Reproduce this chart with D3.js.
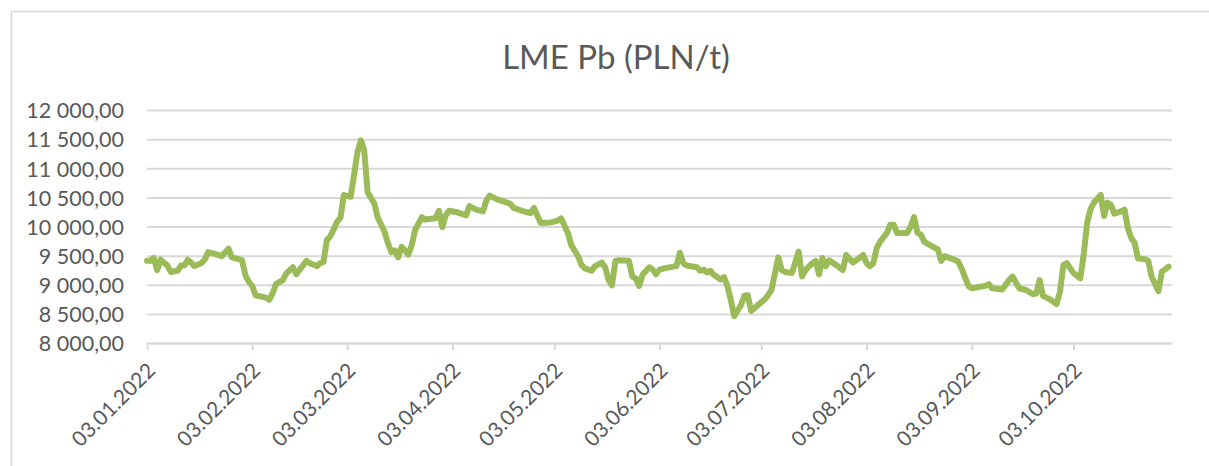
<!DOCTYPE html>
<html>
<head>
<meta charset="utf-8">
<script src="https://cdn.jsdelivr.net/npm/d3@7"></script>
<style>
  body { margin: 0; background: #fff; }
  text { font-family: Lato, "Open Sans", sans-serif; fill: #595959; }
</style>
</head>
<body>
<div id="chart-wrapper"></div>
<script>
// data (date, PLN/t)
var dates = [
  "2022-01-03","2022-01-04","2022-01-05","2022-01-06","2022-01-07","2022-01-09","2022-01-10","2022-01-12","2022-01-13","2022-01-14",
  "2022-01-15","2022-01-16","2022-01-17","2022-01-19","2022-01-20","2022-01-21","2022-01-23","2022-01-25","2022-01-27","2022-01-28",
  "2022-01-30","2022-01-31","2022-02-01","2022-02-02","2022-02-03","2022-02-04","2022-02-07","2022-02-08","2022-02-09","2022-02-10",
  "2022-02-12","2022-02-13","2022-02-15","2022-02-16","2022-02-17","2022-02-19","2022-02-20","2022-02-22","2022-02-23","2022-02-24",
  "2022-02-25","2022-02-26","2022-02-27","2022-02-28","2022-03-01","2022-03-02","2022-03-04","2022-03-05","2022-03-06","2022-03-07",
  "2022-03-08","2022-03-09","2022-03-11","2022-03-12","2022-03-14","2022-03-15","2022-03-16","2022-03-17","2022-03-18","2022-03-19",
  "2022-03-20","2022-03-21","2022-03-22","2022-03-23","2022-03-25","2022-03-26","2022-03-29","2022-03-30","2022-03-31","2022-04-01",
  "2022-04-02","2022-04-04","2022-04-07","2022-04-08","2022-04-10","2022-04-12","2022-04-13","2022-04-14","2022-04-16","2022-04-18",
  "2022-04-20","2022-04-21","2022-04-22","2022-04-24","2022-04-26","2022-04-27","2022-04-29","2022-05-02","2022-05-04","2022-05-05",
  "2022-05-07","2022-05-08","2022-05-10","2022-05-11","2022-05-12","2022-05-14","2022-05-15","2022-05-17","2022-05-18","2022-05-19",
  "2022-05-20","2022-05-21","2022-05-22","2022-05-25","2022-05-26","2022-05-27","2022-05-28","2022-05-29","2022-05-31","2022-06-01",
  "2022-06-02","2022-06-03","2022-06-05","2022-06-08","2022-06-09","2022-06-10","2022-06-11","2022-06-14","2022-06-15","2022-06-16",
  "2022-06-17","2022-06-18","2022-06-19","2022-06-21","2022-06-22","2022-06-23","2022-06-24","2022-06-25","2022-06-27","2022-06-28",
  "2022-06-29","2022-06-30","2022-07-02","2022-07-04","2022-07-05","2022-07-06","2022-07-08","2022-07-09","2022-07-10","2022-07-12",
  "2022-07-14","2022-07-15","2022-07-16","2022-07-18","2022-07-19","2022-07-20","2022-07-21","2022-07-22","2022-07-23","2022-07-25",
  "2022-07-27","2022-07-28","2022-07-30","2022-08-02","2022-08-03","2022-08-04","2022-08-05","2022-08-06","2022-08-07","2022-08-09",
  "2022-08-10","2022-08-11","2022-08-12","2022-08-15","2022-08-16","2022-08-17","2022-08-18","2022-08-19","2022-08-20","2022-08-22",
  "2022-08-24","2022-08-25","2022-08-26","2022-08-28","2022-08-30","2022-08-31","2022-09-02","2022-09-03","2022-09-07","2022-09-08",
  "2022-09-09","2022-09-12","2022-09-14","2022-09-15","2022-09-17","2022-09-19","2022-09-21","2022-09-22","2022-09-23","2022-09-24",
  "2022-09-26","2022-09-28","2022-09-29","2022-09-30","2022-10-01","2022-10-03","2022-10-05","2022-10-06","2022-10-07","2022-10-08",
  "2022-10-09","2022-10-11","2022-10-12","2022-10-13","2022-10-14","2022-10-15","2022-10-17","2022-10-18","2022-10-19","2022-10-20",
  "2022-10-21","2022-10-22","2022-10-24","2022-10-25","2022-10-26","2022-10-28","2022-10-29","2022-10-31"
];
var prices = [
  9410,9410,9460,9250,9430,9330,9220,9240,9330,9330,
  9430,9380,9320,9370,9430,9560,9530,9490,9620,9470,
  9440,9420,9160,9050,8980,8820,8780,8740,8850,9010,
  9080,9190,9300,9180,9260,9410,9370,9320,9370,9390,
  9770,9830,9950,10080,10150,10540,10510,10880,11270,11480,
  11310,10590,10390,10150,9910,9710,9560,9590,9470,9650,
  9590,9520,9680,9940,10160,10120,10140,10270,9990,10190,
  10270,10250,10190,10350,10290,10260,10450,10530,10470,10430,
  10390,10320,10300,10260,10230,10320,10060,10070,10100,10140,
  9890,9680,9490,9340,9280,9240,9320,9380,9300,9080,
  8990,9410,9420,9410,9140,9110,8980,9170,9300,9260,
  9180,9260,9290,9320,9550,9370,9330,9300,9240,9260,
  9210,9240,9170,9090,9130,8980,8740,8460,8650,8810,
  8820,8550,8650,8750,8820,8910,9470,9250,9220,9200,
  9570,9140,9250,9370,9410,9180,9460,9320,9420,9340,
  9250,9510,9380,9510,9370,9320,9370,9630,9740,9890,
  10030,10030,9890,9890,10000,10160,9890,9860,9740,9670,
  9610,9410,9490,9450,9400,9280,8980,8940,8980,9010,
  8940,8920,9080,9140,8940,8910,8840,8850,9080,8810,
  8750,8670,8880,9340,9370,9200,9110,9530,10060,10300,
  10410,10540,10180,10410,10370,10220,10260,10290,9970,9800,
  9720,9450,9440,9410,9140,8890,9220,9310
];
var yTicks = [8000, 8500, 9000, 9500, 10000, 10500, 11000, 11500, 12000];
var xTicks = ["2022-01-03","2022-02-03","2022-03-03","2022-04-03","2022-05-03",
              "2022-06-03","2022-07-03","2022-08-03","2022-09-03","2022-10-03"];
var chartTitle = "LME Pb (PLN/t)";

var W = 1209, H = 466;
var margin = {top: 110, left: 147},
    width = 1172 - margin.left,
    height = 343 - margin.top;

var parse = d3.timeParse("%Y-%m-%d");
var data = dates.map((d, i) => ({date: parse(d), value: prices[i]}));

var svg = d3.select("#chart-wrapper")
  .append("svg")
    .attr("width", W)
    .attr("height", H);

// outer chart frame (runs off the picture on the right and bottom)
svg.append("rect")
  .attr("x", 11.5).attr("y", 11.5)
  .attr("width", 1400).attr("height", 800)
  .attr("fill", "none")
  .attr("stroke", "#d9d9d9")
  .attr("stroke-width", 1.5);

svg.append("text")
  .attr("x", 616).attr("y", 69)
  .attr("text-anchor", "middle")
  .style("font-size", "33px")
  .text(chartTitle);

var g = svg.append("g")
  .attr("transform", `translate(${margin.left},${margin.top})`);

var x = d3.scaleTime()
  .domain([parse("2022-01-03"), parse("2022-11-01")])
  .range([0, width]);

var y = d3.scaleLinear()
  .domain([8000, 12000])
  .range([height, 0]);

var locale = d3.formatLocale({decimal: ",", thousands: "\u00a0", grouping: [3], currency: ["", ""]});
var fmt = locale.format(",.2f");

// y axis with gridlines
var yAxis = g.append("g")
  .call(d3.axisLeft(y).tickValues(yTicks).tickSizeInner(-width).tickSizeOuter(0).tickFormat(fmt));
yAxis.select(".domain").remove();
yAxis.selectAll("line").attr("stroke", "#d9d9d9").attr("stroke-width", 2);
yAxis.selectAll("text")
  .attr("x", -23)
  .attr("dy", "0.36em")
  .style("font-size", "21.5px")
  .attr("fill", "#595959");

// x axis
var xAxis = g.append("g")
  .attr("transform", `translate(0,${height})`)
  .call(d3.axisBottom(x).tickValues(xTicks.map(parse)).tickSizeInner(7).tickSizeOuter(0)
    .tickFormat(d3.timeFormat("%d.%m.%Y")));
xAxis.select(".domain").attr("stroke", "#d9d9d9").attr("stroke-width", 2);
xAxis.selectAll("line").attr("stroke", "#d9d9d9").attr("stroke-width", 2);
xAxis.selectAll("text")
  .attr("y", 0).attr("dy", 0)
  .attr("text-anchor", "end")
  .attr("transform", "translate(9,29) rotate(-45)")
  .style("font-size", "21px")
  .attr("fill", "#595959");

// the price line
g.append("path")
  .datum(data)
  .attr("fill", "none")
  .attr("stroke", "#9bbb59")
  .attr("stroke-width", 6)
  .attr("stroke-linejoin", "round")
  .attr("stroke-linecap", "round")
  .attr("d", d3.line().x(d => x(d.date)).y(d => y(d.value)));
</script>
</body>
</html>
